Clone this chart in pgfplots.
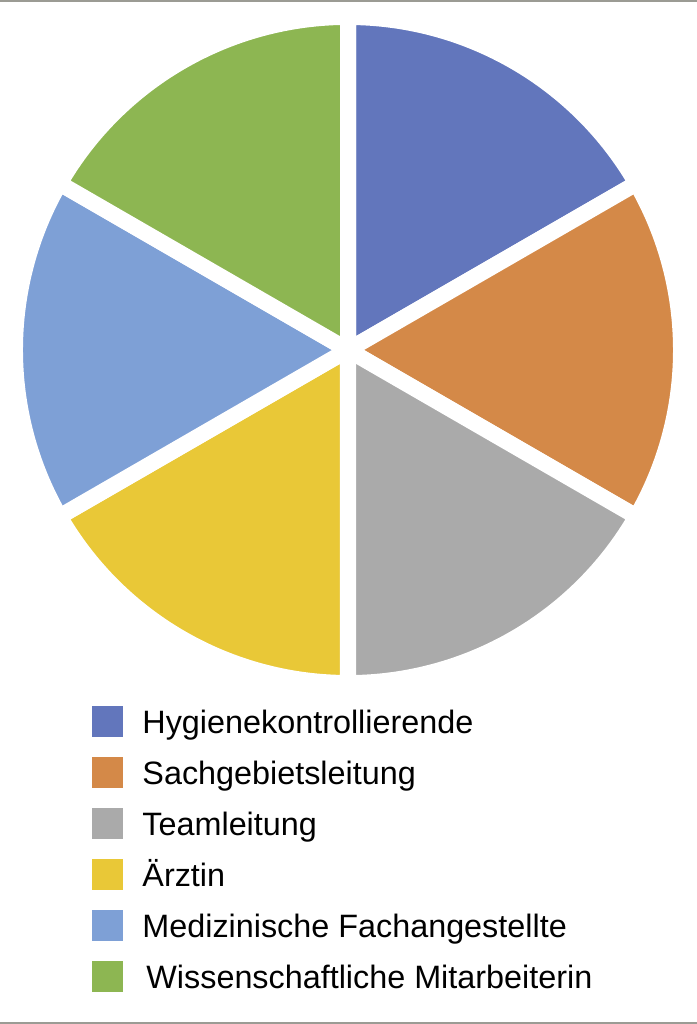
\documentclass[border=0pt]{standalone}
\usepackage{pgfplots}
\usepackage{pgfplotstable}
\usepackage{fontspec}
\setmainfont{Liberation Sans}
\pgfplotsset{compat=1.18}

\definecolor{pie0}{RGB}{98,118,188}
\definecolor{pie1}{RGB}{212,137,72}
\definecolor{pie2}{RGB}{170,170,170}
\definecolor{pie3}{RGB}{233,200,55}
\definecolor{pie4}{RGB}{126,160,214}
\definecolor{pie5}{RGB}{141,182,82}
\definecolor{rule}{RGB}{155,155,148}

% shares of the six groups
\pgfplotstableread{
group value
0 1
1 1
2 1
3 1
4 1
5 1
}\piedata

% start and end angle of each slice, clockwise from the top
\def\piesum{0}
\pgfplotstableforeachcolumnelement{value}\of\piedata\as\v{%
  \pgfmathparse{\piesum+\v}\xdef\piesum{\pgfmathresult}}
\def\pieangle{90}
\pgfplotstableforeachcolumnelement{value}\of\piedata\as\v{%
  \pgfmathparse{\pieangle-360*\v/\piesum}%
  \expandafter\xdef\csname pieA\pgfplotstablerow\endcsname{\pieangle}%
  \expandafter\xdef\csname pieB\pgfplotstablerow\endcsname{\pgfmathresult}%
  \xdef\pieangle{\pgfmathresult}}

\begin{document}
\begin{tikzpicture}
\begin{axis}[
    x=0.01cm, y=0.01cm,
    xmin=-348, xmax=349,
    ymin=-674, ymax=350,
    hide axis,
    clip=false,
    legend style={
        at={(axis cs:-256,-348)}, anchor=north west,
        draw=none, fill=none,
        inner sep=0pt, outer sep=0pt,
        row sep=0.06cm,
        column sep=0.19cm,
        font=\fontsize{9.2}{11}\selectfont,
        nodes={inner sep=0pt, text height=0.35cm, text depth=0.1cm},
    },
    legend cell align=left,
    legend image code/.code={
        \fill[#1] (0cm,-0.16cm) rectangle (0.3cm,0.14cm);
    },
]
\pgfplotsinvokeforeach{0,...,5}{
  \fill[fill=pie#1, draw=white, line width=0.16cm]
    (axis cs:0,0)
    -- (axis cs:{333*cos(\csname pieA#1\endcsname)},{333*sin(\csname pieA#1\endcsname)})
    arc[start angle=\csname pieA#1\endcsname, end angle=\csname pieB#1\endcsname, radius=3.33cm]
    -- cycle;
}
\addlegendimage{pie0}\addlegendentry{Hygienekontrollierende}
\addlegendimage{pie1}\addlegendentry{Sachgebietsleitung}
\addlegendimage{pie2}\addlegendentry{Teamleitung}
\addlegendimage{pie3}\addlegendentry{Ärztin}
\addlegendimage{pie4}\addlegendentry{Medizinische Fachangestellte}
\addlegendimage{pie5}\addlegendentry{\hspace{0.04cm}Wissenschaftliche Mitarbeiterin}
\end{axis}
\draw[rule, line width=0.02cm] ([yshift=-0.01cm]current axis.north west) -- ([yshift=-0.01cm]current axis.north east);
\draw[rule, line width=0.02cm] ([yshift=0.01cm]current axis.south west) -- ([yshift=0.01cm]current axis.south east);
\pgfresetboundingbox
\path[use as bounding box] (current axis.south west) rectangle (current axis.north east);
\end{tikzpicture}
\end{document}
